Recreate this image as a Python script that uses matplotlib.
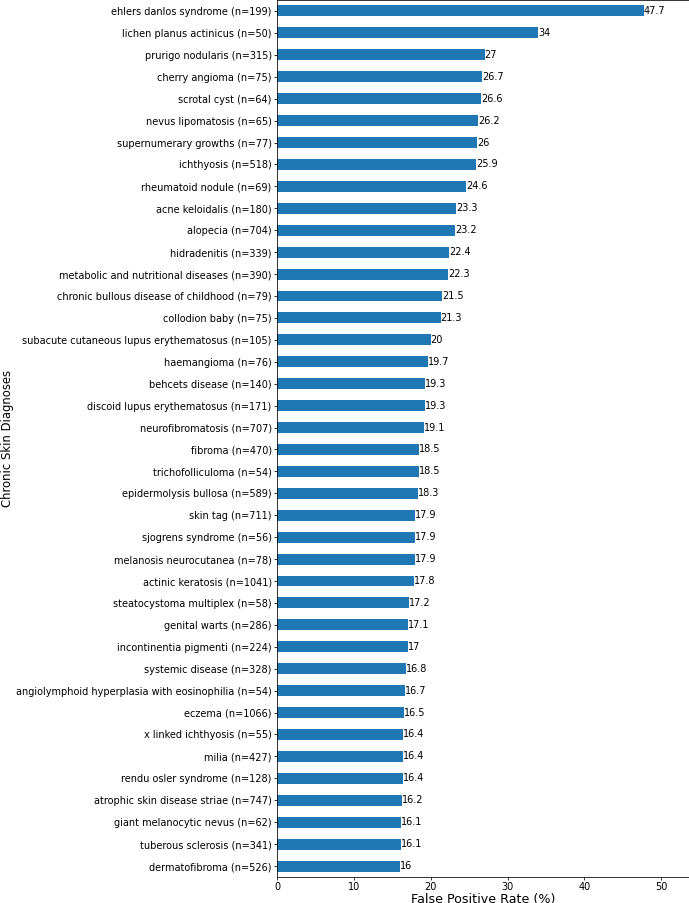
import matplotlib
matplotlib.use("Agg")
import matplotlib.pyplot as plt
import numpy as np

# listed top to bottom as in the chart
diagnoses = [
    "ehlers danlos syndrome (n=199)", "lichen planus actinicus (n=50)",
    "prurigo nodularis (n=315)", "cherry angioma (n=75)", "scrotal cyst (n=64)",
    "nevus lipomatosis (n=65)", "supernumerary growths (n=77)", "ichthyosis (n=518)",
    "rheumatoid nodule (n=69)", "acne keloidalis (n=180)", "alopecia (n=704)",
    "hidradenitis (n=339)", "metabolic and nutritional diseases (n=390)",
    "chronic bullous disease of childhood (n=79)", "collodion baby (n=75)",
    "subacute cutaneous lupus erythematosus (n=105)", "haemangioma (n=76)",
    "behcets disease (n=140)", "discoid lupus erythematosus (n=171)",
    "neurofibromatosis (n=707)", "fibroma (n=470)", "trichofolliculoma (n=54)",
    "epidermolysis bullosa (n=589)", "skin tag (n=711)", "sjogrens syndrome (n=56)",
    "melanosis neurocutanea (n=78)", "actinic keratosis (n=1041)",
    "steatocystoma multiplex (n=58)", "genital warts (n=286)",
    "incontinentia pigmenti (n=224)", "systemic disease (n=328)",
    "angiolymphoid hyperplasia with eosinophilia (n=54)", "eczema (n=1066)",
    "x linked ichthyosis (n=55)", "milia (n=427)", "rendu osler syndrome (n=128)",
    "atrophic skin disease striae (n=747)", "giant melanocytic nevus (n=62)",
    "tuberous sclerosis (n=341)", "dermatofibroma (n=526)",
]
fpr = [47.7, 34, 27, 26.7, 26.6, 26.2, 26, 25.9, 24.6, 23.3, 23.2, 22.4, 22.3,
       21.5, 21.3, 20, 19.7, 19.3, 19.3, 19.1, 18.5, 18.5, 18.3, 17.9, 17.9, 17.9,
       17.8, 17.2, 17.1, 17, 16.8, 16.7, 16.5, 16.4, 16.4, 16.4, 16.2, 16.1, 16.1, 16]

labels = diagnoses[::-1]
vals = fpr[::-1]
pos = np.arange(len(vals))

W, H, DPI = 689, 903, 70
fig = plt.figure(figsize=(W / DPI, H / DPI), dpi=DPI)
# axes ends at the canvas edge, like the cropped original
ax = fig.add_axes([277 / W, 26 / H, 412 / W, 877 / H])
bars = ax.barh(pos, vals, height=0.5, color="#1f77b4")
for b, v in zip(bars, vals):
    ax.text(b.get_width(), b.get_y() + b.get_height() / 2, f"{v:g}",
            va="center", ha="left", fontsize=10)
ax.set_yticks(pos)
ax.set_yticklabels(labels, fontsize=10)
ax.set_ylim(-0.5, len(vals) - 0.5)
ax.set_xlim(0, 53.6)
ax.set_xticks([0, 10, 20, 30, 40, 50])
ax.spines["right"].set_visible(False)
ax.tick_params(axis="x", labelsize=10, length=3, pad=2.5)
ax.tick_params(axis="y", length=3, pad=2.5)
ax.set_xlabel("False Positive Rate (%)", fontsize=13, labelpad=0.5)
ax.set_ylabel("Chronic Skin Diagnoses", fontsize=12)
ax.yaxis.set_label_coords(-263 / 412, 0.5)

fig.savefig("out.png", dpi=DPI)
